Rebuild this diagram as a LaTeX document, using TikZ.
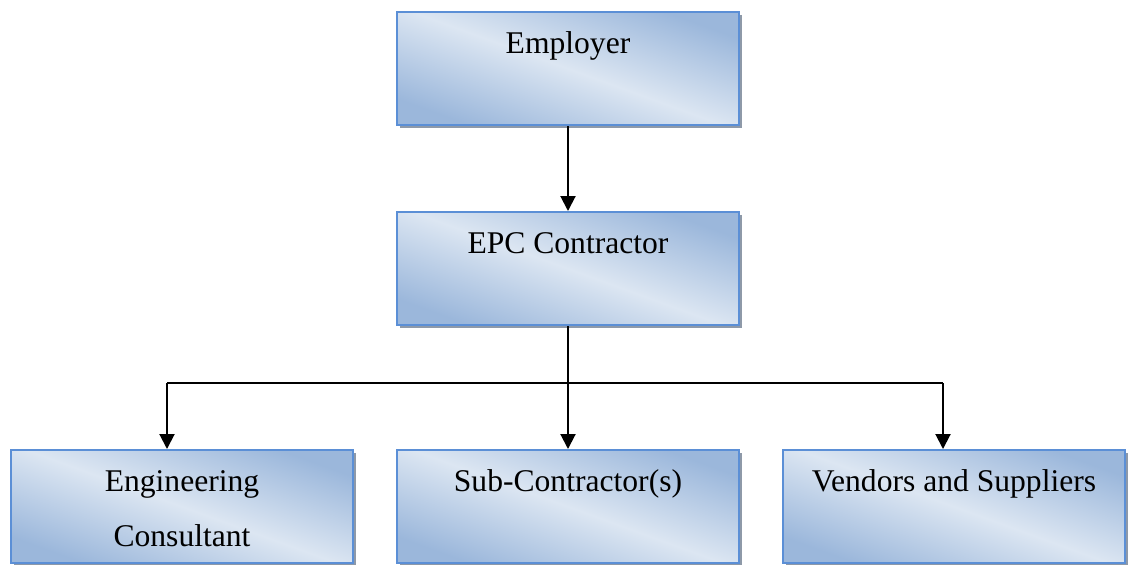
\documentclass[tikz,border=0pt]{standalone}
\usepackage{fontspec}
\setmainfont{Liberation Serif}
\usetikzlibrary{arrows.meta,shadows}

\definecolor{boxlight}{HTML}{DCE6F2}
\definecolor{boxdark}{HTML}{9BB7DB}
\definecolor{boxedge}{HTML}{5B8FD6}
\definecolor{boxshadow}{HTML}{8E99A8}

\tikzset{
    orgbox/.style={rectangle, draw=boxedge, line width=1pt,
        top color=boxdark, bottom color=boxdark, middle color=boxlight, shading angle=-20,
        drop shadow={shadow xshift=1.5pt, shadow yshift=-1.5pt, fill=boxshadow, opacity=1},
        minimum width=171pt, minimum height=56.5pt, inner xsep=2pt, inner ysep=0pt,
        text height=20.5pt, text depth=36pt, align=center,
        font=\fontsize{15.8}{27.5}\selectfont},
    link/.style={black, line width=1pt, -{Triangle[length=7.5pt, width=7.5pt]}}
}

\begin{document}
\begin{tikzpicture}[x=0.5pt, y=-0.5pt]
            \useasboundingbox (0,0) rectangle (1130,564);

            \node[orgbox] (employer) at (568,68.5) {Employer};
            \node[orgbox] (epc) at (568,268.5) {EPC Contractor};

            \node[orgbox, text height=48pt, text depth=8.5pt] (engineer) at (182,506.5) {Engineering\\Consultant};
            \node[orgbox] (sub) at (568,506.5) {Sub-Contractor(s)};
            \node[orgbox] (vendor) at (954,506.5) {Vendors and Suppliers};

            \coordinate (busleft) at (167,383);
            \coordinate (busright) at (943,383);

            \draw[link] (employer.south) -- (epc.north);
            \draw[link] (epc.south) -- (sub.north);
            \draw[line width=1pt] (busleft) -- (busright);
            \draw[link] (busleft) -- (busleft |- engineer.north);
            \draw[link] (busright) -- (busright |- vendor.north);
\end{tikzpicture}
\end{document}
